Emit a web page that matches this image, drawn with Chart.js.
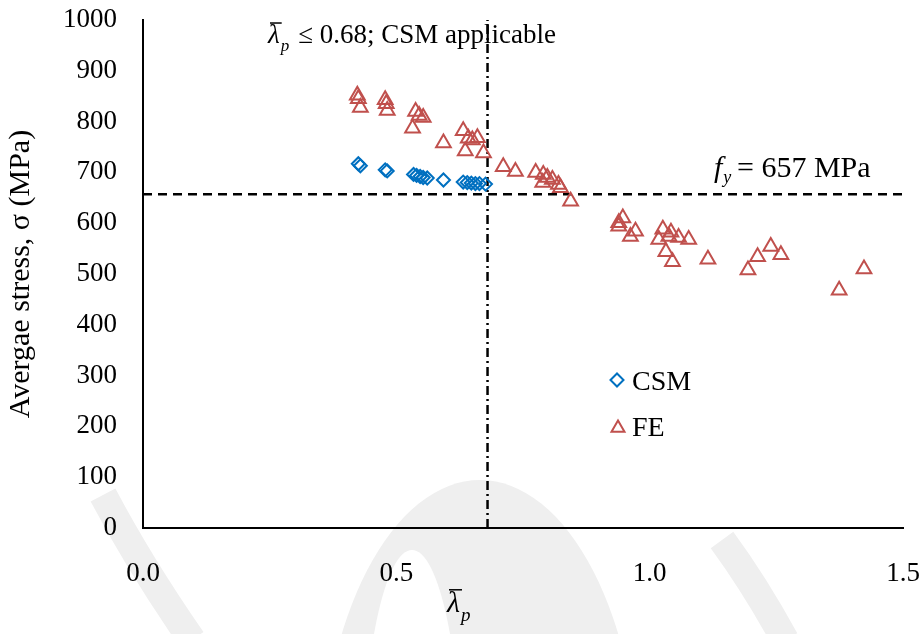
<!DOCTYPE html>
<html>
<head>
<meta charset="utf-8">
<script src="https://cdn.jsdelivr.net/npm/chart.js@4.4.1/dist/chart.umd.min.js"></script>
<style>
    html, body { margin: 0; padding: 0; background: #fff; }
    #wrap { width: 922px; height: 634px; position: relative; }
</style>
</head>
<body>
<div id="wrap"><canvas id="chartStress"></canvas></div>
<script>
'use strict';

// CSM predictions: normalised slenderness vs average stress (MPa)
const csmLambda = [0.425, 0.429, 0.478, 0.482, 0.534, 0.540, 0.547, 0.553, 0.561, 0.593, 0.632, 0.640, 0.648, 0.656, 0.664, 0.676];
const csmStress = [717, 713, 705, 703, 696, 694, 692, 690, 689, 685, 681, 680, 679, 678, 678, 677];

// FE results
const feLambda = [0.423, 0.425, 0.429, 0.478, 0.480, 0.482, 0.532, 0.538, 0.545, 0.553, 0.593,
    0.632, 0.642, 0.650, 0.660, 0.636, 0.672, 0.711, 0.735, 0.775, 0.790, 0.798, 0.808, 0.789, 0.820, 0.824, 0.844,
    0.947, 0.939, 0.939, 0.972, 0.962, 1.026, 1.042, 1.018, 1.038, 1.057, 1.077, 1.032, 1.045,
    1.115, 1.194, 1.213, 1.239, 1.259, 1.374, 1.423];
const feStress = [852, 845, 828, 843, 835, 822, 787, 820, 812, 808, 758,
    782, 767, 764, 768, 742, 738, 711, 702, 700, 696, 690, 686, 680, 676, 670, 643,
    610, 601, 594, 584, 574, 588, 582, 568, 574, 572, 568, 544, 524,
    529, 508, 534, 554, 538, 468, 510];

const yieldStress = 657;
const lambdaLimit = 0.68;
const xTicks = [0.0, 0.5, 1.0, 1.5];
const yTicks = [0, 100, 200, 300, 400, 500, 600, 700, 800, 900, 1000];

const SERIF = "'Liberation Serif', 'Times New Roman', serif";
const CSM_COLOR = '#0070C0';
const FE_COLOR = '#C0504D';

function toPoints(xs, ys) {
    return xs.map((x, i) => ({ x: x, y: ys[i] }));
}

// italic lambda with an overbar and subscript p
function drawLambdaP(ctx, x, y, size) {
    ctx.save();
    ctx.fillStyle = '#000';
    ctx.textAlign = 'left';
    ctx.textBaseline = 'alphabetic';
    ctx.font = `italic ${size}px ${SERIF}`;
    ctx.fillText('λ', x, y);
    const w = ctx.measureText('λ').width;
    ctx.strokeStyle = '#000';
    ctx.lineWidth = 1.5;
    ctx.beginPath();
    ctx.moveTo(x + 2, y - size * 0.74);
    ctx.lineTo(x + w + 2, y - size * 0.74);
    ctx.stroke();
    ctx.font = `italic ${Math.round(size * 0.62)}px ${SERIF}`;
    ctx.fillText('p', x + w + 1, y + size * 0.31);
    const pw = ctx.measureText('p').width;
    ctx.restore();
    return x + w + 1 + pw;
}

// faint seal in the page background
const backdrop = {
    id: 'backdrop',
    beforeDraw(chart) {
        const ctx = chart.ctx;
        const tint = '#efefef';
        ctx.save();
        ctx.fillStyle = tint;
        ctx.beginPath();
        ctx.ellipse(480, 790, 160, 310, 0, 0, Math.PI * 2);
        ctx.fill();
        ctx.fillStyle = '#fff';
        ctx.beginPath();
        ctx.ellipse(412, 790, 50, 240, 0, 0, Math.PI * 2);
        ctx.fill();

        ctx.strokeStyle = tint;
        ctx.lineWidth = 28;
        ctx.beginPath();
        ctx.moveTo(103, 495);
        ctx.quadraticCurveTo(140, 565, 192, 640);
        ctx.stroke();
        ctx.beginPath();
        ctx.moveTo(722, 540);
        ctx.quadraticCurveTo(755, 585, 785, 640);
        ctx.stroke();
        ctx.restore();
    }
};

const annotations = {
    id: 'annotations',
    afterDraw(chart) {
        const ctx = chart.ctx;

        // x axis title
        drawLambdaP(ctx, 447, 612, 30);

        // applicability limit label
        let end = drawLambdaP(ctx, 268, 43, 27);
        ctx.save();
        ctx.fillStyle = '#000';
        ctx.textBaseline = 'alphabetic';
        ctx.font = `27px ${SERIF}`;
        ctx.fillText('≤ 0.68; CSM applicable', end + 9, 43);

        // yield stress label
        ctx.font = `italic 30px ${SERIF}`;
        ctx.fillText('f', 714, 177);
        const fw = ctx.measureText('f').width;
        ctx.font = `italic 18px ${SERIF}`;
        ctx.fillText('y', 714 + fw + 1, 183);
        ctx.font = `30px ${SERIF}`;
        ctx.fillText('= 657 MPa', 737, 177);

        // legend
        const items = [
            { label: 'CSM', style: 'rectRot', color: CSM_COLOR, r: 6.5, x: 617, y: 380, ty: 390 },
            { label: 'FE', style: 'triangle', color: FE_COLOR, r: 7.5, x: 618, y: 428, ty: 436 }
        ];
        items.forEach(it => {
            ctx.strokeStyle = it.color;
            ctx.fillStyle = 'rgba(0,0,0,0)';
            ctx.lineWidth = 2;
            Chart.helpers.drawPoint(ctx, { pointStyle: it.style, radius: it.r, borderWidth: 2 }, it.x, it.y);
            ctx.fillStyle = '#000';
            ctx.font = `28px ${SERIF}`;
            ctx.fillText(it.label, 632, it.ty);
        });
        ctx.restore();
    }
};

const data = {
    datasets: [
        {
            label: 'CSM',
            data: toPoints(csmLambda, csmStress),
            pointStyle: 'rectRot',
            pointRadius: 6.5,
            pointBorderWidth: 2,
            borderColor: CSM_COLOR,
            backgroundColor: 'rgba(0,0,0,0)',
            showLine: false,
            order: 0
        },
        {
            label: 'FE',
            data: toPoints(feLambda, feStress),
            pointStyle: 'triangle',
            pointRadius: 8.5,
            pointBorderWidth: 2,
            borderColor: FE_COLOR,
            backgroundColor: 'rgba(0,0,0,0)',
            showLine: false,
            order: 0
        },
        {
            label: 'limit',
            data: [{ x: lambdaLimit, y: 0 }, { x: lambdaLimit, y: 1000 }],
            showLine: true,
            pointRadius: 0,
            borderColor: '#000',
            borderWidth: 2.5,
            borderDash: [9, 4, 2, 4],
            order: 1
        },
        {
            label: 'fy',
            data: [{ x: 0, y: yieldStress }, { x: 1.5, y: yieldStress }],
            showLine: true,
            pointRadius: 0,
            borderColor: '#000',
            borderWidth: 2.5,
            borderDash: [9, 6],
            order: 1
        }
    ]
};

const config = {
    type: 'scatter',
    data,
    options: {
        responsive: true,
        maintainAspectRatio: false,
        animation: false,
        layout: { padding: { top: 20, right: 19, bottom: 0, left: 0 } },
        plugins: {
            legend: { display: false },
            tooltip: { enabled: false }
        },
        scales: {
            x: {
                type: 'linear',
                min: 0,
                max: 1.5,
                afterBuildTicks: function (scale) {
                    scale.ticks = xTicks.map(v => ({ value: v }));
                },
                // fixed box, no extra side padding for the end labels
                afterFit: function (scale) {
                    scale.height = 106;
                    scale.paddingLeft = 0;
                    scale.paddingRight = 0;
                },
                ticks: {
                    callback: v => Number(v).toFixed(1),
                    color: '#000',
                    font: { family: SERIF, size: 27 },
                    padding: 30,
                    maxRotation: 0
                },
                grid: { display: false, drawTicks: false },
                border: { display: true, color: '#000', width: 2 }
            },
            y: {
                type: 'linear',
                min: 0,
                max: 1000,
                afterBuildTicks: function (scale) {
                    scale.ticks = yTicks.map(v => ({ value: v }));
                },
                afterFit: function (scale) {
                    scale.width = 143;
                    scale.paddingTop = 0;
                    scale.paddingBottom = 0;
                },
                ticks: {
                    callback: v => String(v),
                    color: '#000',
                    font: { family: SERIF, size: 27 },
                    padding: 26
                },
                grid: { display: false, drawTicks: false },
                border: { display: true, color: '#000', width: 2 },
                title: {
                    display: true,
                    text: 'Avergae stress, σ (MPa)',
                    color: '#000',
                    font: { family: SERIF, size: 30 },
                    padding: { top: 3, bottom: 0 }
                }
            }
        }
    },
    plugins: [backdrop, annotations]
};

var chartStress = new Chart(document.getElementById('chartStress'), config);
</script>
</body>
</html>
